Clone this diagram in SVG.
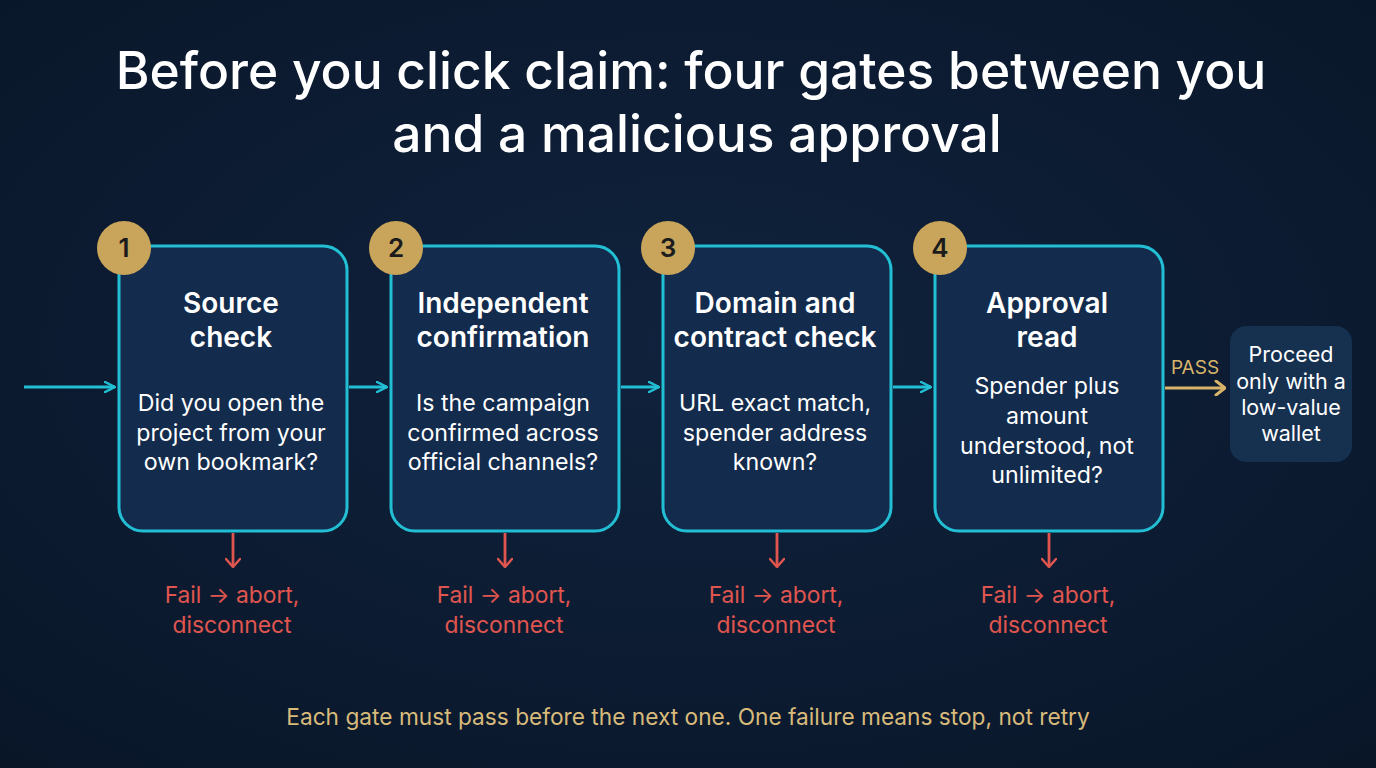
<svg xmlns="http://www.w3.org/2000/svg" width="1376" height="768" viewBox="0 0 1376 768">
<defs>
<radialGradient id="bg" cx="50%" cy="45%" r="75%">
<stop offset="0" stop-color="#10223d"/>
<stop offset="1" stop-color="#091628"/>
</radialGradient>
<marker id="ac" viewBox="0 0 12 12" refX="11" refY="6" markerWidth="12" markerHeight="12" markerUnits="userSpaceOnUse" orient="auto">
<path d="M1,1 L11,6 L1,11" fill="none" stroke="#22bfd4" stroke-width="2.5" stroke-linecap="round" stroke-linejoin="round"/>
</marker>
<marker id="ar" viewBox="0 0 16 12" refX="8" refY="11" markerWidth="16" markerHeight="12" markerUnits="userSpaceOnUse" orient="0">
<path d="M1,3 L8,11 L15,3" fill="none" stroke="#e0564f" stroke-width="2.5" stroke-linecap="round" stroke-linejoin="round"/>
</marker>
<marker id="ag" viewBox="0 0 12 16" refX="11" refY="8" markerWidth="12" markerHeight="16" markerUnits="userSpaceOnUse" orient="auto">
<path d="M2,1 L11,8 L2,15" fill="none" stroke="#d8b46a" stroke-width="3" stroke-linecap="round" stroke-linejoin="round"/>
</marker>
</defs>
<style>
text{font-family:Inter,"Liberation Sans",sans-serif;}
.title{fill:#ffffff;font-size:51.5px;font-weight:500;text-anchor:middle;}
.box{fill:#132b4c;stroke:#22bfd4;stroke-width:3;}
.badge{fill:#c9a55c;}
.num{fill:#1b1b1b;font-size:26px;font-weight:600;text-anchor:middle;}
.bt{fill:#ffffff;font-size:28px;font-weight:600;text-anchor:middle;}
.bd{fill:#ffffff;font-size:23.2px;text-anchor:middle;}
.pr{fill:#ffffff;font-size:21.5px;text-anchor:middle;}
.fail{fill:#e0564f;font-size:22.8px;text-anchor:middle;}
.cyan{stroke:#22bfd4;stroke-width:2.8;fill:none;}
.red{stroke:#e0564f;stroke-width:2.8;fill:none;}
.foot{fill:#d8ba7a;font-size:22.7px;text-anchor:middle;}
</style>
<rect width="1376" height="768" fill="url(#bg)"/>
<g id="title">
<text class="title" x="691" y="89">Before you click claim: four gates between you</text>
<text class="title" x="697" y="152">and a malicious approval</text>
</g>
<g id="connectors">
<line class="cyan" x1="24" y1="387" x2="115" y2="387" marker-end="url(#ac)"/>
<line class="cyan" x1="349" y1="387" x2="387" y2="387" marker-end="url(#ac)"/>
<line class="cyan" x1="621" y1="387" x2="659" y2="387" marker-end="url(#ac)"/>
<line class="cyan" x1="893" y1="387" x2="931" y2="387" marker-end="url(#ac)"/>
<line x1="1165" y1="388" x2="1225" y2="388" stroke="#d8b46a" stroke-width="3" marker-end="url(#ag)"/>
<text x="1195" y="374" fill="#d8b46a" font-size="19" text-anchor="middle">PASS</text>
<line class="red" x1="233" y1="533" x2="233" y2="567" marker-end="url(#ar)"/>
<line class="red" x1="505" y1="533" x2="505" y2="567" marker-end="url(#ar)"/>
<line class="red" x1="777" y1="533" x2="777" y2="567" marker-end="url(#ar)"/>
<line class="red" x1="1049" y1="533" x2="1049" y2="567" marker-end="url(#ar)"/>
</g>
<g id="gate1">
<rect class="box" x="119" y="246" width="228" height="285" rx="24"/>
<circle class="badge" cx="124" cy="248" r="27"/>
<text class="num" x="124" y="257">1</text>
<text class="bt" x="231" y="313">Source</text>
<text class="bt" x="231" y="347">check</text>
<text class="bd" x="231" y="411">Did you open the</text>
<text class="bd" x="231" y="441">project from your</text>
<text class="bd" x="231" y="470">own bookmark?</text>
<text class="fail" x="232" y="603">Fail → abort,</text>
<text class="fail" x="232" y="633">disconnect</text>
</g>
<g id="gate2">
<rect class="box" x="391" y="246" width="228" height="285" rx="24"/>
<circle class="badge" cx="396" cy="248" r="27"/>
<text class="num" x="396" y="257">2</text>
<text class="bt" x="503" y="313">Independent</text>
<text class="bt" x="503" y="347">confirmation</text>
<text class="bd" x="503" y="411">Is the campaign</text>
<text class="bd" x="503" y="441">confirmed across</text>
<text class="bd" x="503" y="470">official channels?</text>
<text class="fail" x="504" y="603">Fail → abort,</text>
<text class="fail" x="504" y="633">disconnect</text>
</g>
<g id="gate3">
<rect class="box" x="663" y="246" width="228" height="285" rx="24"/>
<circle class="badge" cx="668" cy="248" r="27"/>
<text class="num" x="668" y="257">3</text>
<text class="bt" x="775" y="313">Domain and</text>
<text class="bt" x="775" y="347">contract check</text>
<text class="bd" x="775" y="411">URL exact match,</text>
<text class="bd" x="775" y="441">spender address</text>
<text class="bd" x="775" y="470">known?</text>
<text class="fail" x="776" y="603">Fail → abort,</text>
<text class="fail" x="776" y="633">disconnect</text>
</g>
<g id="gate4">
<rect class="box" x="935" y="246" width="228" height="285" rx="24"/>
<circle class="badge" cx="940" cy="248" r="27"/>
<text class="num" x="940" y="257">4</text>
<text class="bt" x="1047" y="313">Approval</text>
<text class="bt" x="1047" y="347">read</text>
<text class="bd" x="1047" y="394">Spender plus</text>
<text class="bd" x="1047" y="424">amount</text>
<text class="bd" x="1047" y="454">understood, not</text>
<text class="bd" x="1047" y="483">unlimited?</text>
<text class="fail" x="1048" y="603">Fail → abort,</text>
<text class="fail" x="1048" y="633">disconnect</text>
</g>
<g id="proceed">
<rect x="1230" y="326" width="122" height="136" rx="16" fill="#16304f"/>
<text class="pr" x="1291" y="362">Proceed</text>
<text class="pr" x="1291" y="389">only with a</text>
<text class="pr" x="1291" y="415">low-value</text>
<text class="pr" x="1291" y="441">wallet</text>
</g>
<g id="footer">
<text class="foot" x="688" y="725">Each gate must pass before the next one. One failure means stop, not retry</text>
</g>
</svg>
